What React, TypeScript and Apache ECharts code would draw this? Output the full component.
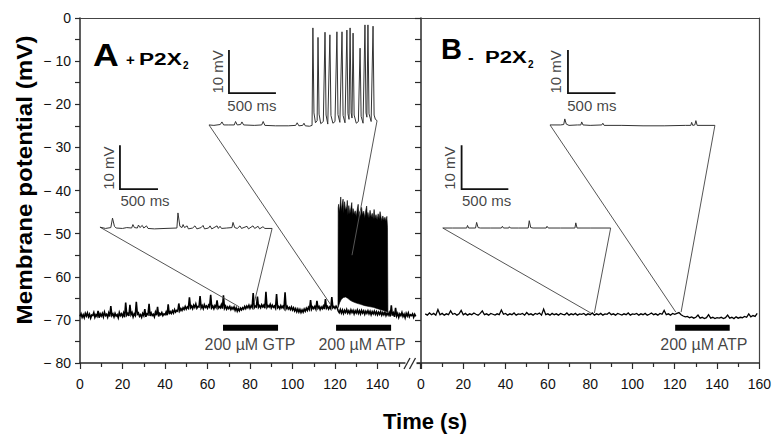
import React, { useEffect, useRef } from 'react';
import * as echarts from 'echarts';

const FONT = '"Liberation Sans", Arial, Helvetica, sans-serif';

// ---------- axes ----------
const timeMin = 0;
const timeMax = 160;
const timeInterval = 20;
const vMin = -80;
const vMax = 0;
const vInterval = 10;

// ---------- panel A main trace (0.5 s sampling from t = 0) ----------
const traceAStep = 0.5;
const traceA = [
  -69.2,-68.6,-69.4,-68.8,-69.5,-68.5,-69.1,-68.4,-69.3,-68.7,-69.6,-68.9,-69.0,-68.3,-69.4,-68.8,-69.2,-67.9,-69.5,-68.6,
  -69.1,-68.5,-69.3,-68.2,-69.0,-68.7,-69.4,-68.4,-69.2,-66.8,-69.0,-68.6,-69.3,-68.5,-69.1,-68.8,-69.5,-68.3,-69.0,-68.6,
  -69.2,-68.4,-69.4,-66.0,-68.9,-68.5,-69.1,-66.5,-68.8,-68.3,-69.3,-68.6,-69.0,-65.8,-68.7,-68.4,-69.2,-68.8,-69.4,-68.5,
  -69.0,-67.5,-69.3,-68.6,-68.8,-66.3,-69.1,-68.4,-69.0,-68.7,-69.3,-68.2,-68.9,-67.0,-69.2,-68.5,-68.8,-68.3,-69.0,-68.6,
  -68.8,-68.2,-68.9,-66.4,-68.7,-68.1,-68.5,-67.9,-68.4,-67.6,-68.2,-67.8,-68.0,-66.2,-67.9,-67.4,-67.8,-67.2,-67.6,-66.9,
  -67.5,-67.0,-67.3,-64.8,-67.2,-66.8,-67.4,-66.6,-67.1,-66.3,-67.3,-66.9,-67.0,-64.5,-67.2,-66.7,-67.4,-66.5,-67.1,-66.8,
  -67.3,-66.6,-67.0,-64.2,-67.2,-66.8,-67.4,-66.7,-67.1,-65.5,-67.3,-66.9,-67.2,-66.5,-67.4,-64.3,-67.3,-66.8,-67.5,-67.0,
  -67.4,-66.9,-67.6,-67.1,-67.5,-67.0,-67.8,-67.2,-68.0,-67.4,-67.9,-67.3,-67.7,-67.2,-67.5,-66.9,-67.4,-66.8,-67.2,-66.6,
  -67.3,-66.7,-67.1,-63.8,-67.2,-66.8,-67.0,-64.6,-67.1,-66.7,-67.2,-66.5,-67.0,-66.6,-67.3,-63.5,-67.1,-66.7,-67.0,-66.4,
  -67.2,-66.6,-67.1,-66.8,-67.3,-64.0,-67.2,-66.9,-67.4,-66.7,-67.2,-66.8,-67.3,-63.6,-67.4,-66.9,-67.5,-67.1,-67.6,-67.0,
  -67.7,-67.2,-67.9,-67.4,-68.1,-67.5,-68.2,-67.6,-68.3,-67.7,-68.2,-67.5,-68.0,-67.3,-67.8,-67.1,-67.6,-65.4,-67.5,-67.0,
  -67.4,-66.9,-67.5,-65.6,-67.3,-66.9,-67.6,-67.0,-67.4,-66.8,-67.5,-65.2,-67.3,-66.9,-67.5,-67.0,-67.4,-64.7,-67.2,-66.9,
  -67.3,-66.8,-67.2,-67.9,-68.3,-67.6,-68.4,-67.7,-68.5,-67.8,-68.3,-67.6,-68.4,-67.9,-68.5,-67.7,-68.3,-67.8,-68.6,-67.9,
  -68.4,-67.7,-68.5,-67.9,-68.6,-67.8,-68.4,-67.9,-68.7,-68.0,-68.5,-67.9,-68.6,-68.0,-68.8,-68.1,-68.6,-68.0,-68.7,-68.1,
  -68.8,-68.2,-68.7,-68.1,-68.9,-68.3,-68.8,-68.2,-69.0,-68.4,-68.9,-68.3,-69.2,-66.6,-69.0,-68.4,-69.3,-67.2,-69.1,-68.5,
  -69.4,-68.6,-69.0,-68.3,-69.2,-68.7,-69.5,-68.5,-69.1,-68.4,-69.3,-68.8,-69.0,-68.6,-69.4,-68.7,-69.2,
];

// ATP-evoked burst in panel A: upper and lower envelopes [t, mV]
const burstUpper = [
  [121.4,-67.2],[121.5,-44.0],[121.7,-43.2],[122.0,-45.0],[122.4,-43.6],[122.7,-41.5],[123.0,-44.8],[123.4,-43.2],
  [123.8,-42.0],[124.1,-45.3],[124.5,-42.6],[125.0,-44.6],[125.5,-43.8],[125.8,-42.3],[126.1,-45.6],[126.5,-43.5],
  [127.0,-45.4],[127.5,-44.0],[127.9,-42.8],[128.2,-45.8],[128.5,-44.2],[129.0,-45.5],[129.5,-44.7],[130.0,-46.0],
  [130.5,-44.3],[130.9,-43.2],[131.2,-45.8],[131.5,-44.9],[132.0,-46.1],[132.5,-43.9],[133.0,-45.7],[133.5,-44.8],
  [134.0,-46.3],[134.5,-44.5],[134.9,-43.6],[135.2,-46.0],[135.5,-45.1],[136.0,-46.4],[136.5,-44.6],[137.0,-46.2],
  [137.5,-45.3],[138.0,-46.6],[138.4,-44.4],[138.8,-46.5],[139.3,-45.6],[139.8,-46.8],[140.3,-45.4],[140.8,-46.6],
  [141.2,-44.9],[141.6,-46.0],[142.0,-47.0],[142.5,-45.9],[143.0,-46.9],[143.5,-46.2],[144.0,-47.1],[144.4,-46.0],
  [144.7,-48.5],[144.9,-67.8],
];
const burstLower = [
  [121.4,-67.2],[122.2,-66.0],[123.0,-65.2],[124.0,-64.8],[125.0,-64.7],[126.0,-65.0],[127.0,-65.4],[128.0,-65.7],
  [129.0,-65.9],[130.0,-66.1],[132.0,-66.4],[134.0,-66.7],[136.0,-66.9],[138.0,-67.1],[140.0,-67.4],[142.0,-67.7],
  [144.0,-68.0],[144.9,-68.2],
];

// ---------- panel B main trace (1 s sampling from t = 2) ----------
const traceBStart = 2;
const traceBStep = 1;
const traceB = [
  -68.6,-68.9,-68.4,-68.8,-68.5,-68.9,-67.6,-68.8,-68.5,-68.9,
  -68.6,-68.8,-67.9,-68.7,-68.5,-68.9,-68.6,-67.8,-68.8,-68.5,
  -68.9,-68.6,-68.8,-68.4,-68.7,-68.9,-68.5,-67.9,-68.8,-68.6,
  -68.9,-68.5,-68.7,-68.9,-68.6,-68.8,-67.7,-68.7,-68.5,-68.9,
  -68.6,-68.8,-68.4,-68.9,-68.6,-68.7,-68.5,-68.9,-68.3,-68.8,
  -68.6,-68.9,-68.5,-68.7,-68.4,-68.9,-67.5,-68.8,-68.6,-68.9,
  -68.5,-68.8,-68.6,-68.9,-68.5,-68.7,-68.8,-68.4,-68.9,-68.6,
  -68.8,-68.5,-68.9,-68.6,-68.7,-68.5,-68.9,-68.6,-68.8,-68.4,
  -68.9,-68.6,-68.8,-68.5,-68.9,-68.6,-68.7,-68.3,-68.8,-68.6,
  -68.9,-68.5,-68.7,-68.9,-68.6,-68.8,-68.4,-68.9,-68.6,-68.7,
  -68.5,-68.9,-68.6,-68.8,-68.5,-68.9,-68.7,-68.4,-68.8,-68.6,
  -68.9,-68.5,-68.7,-67.8,-68.8,-68.6,-68.9,-68.5,-68.7,-68.5,
  -68.3,-68.8,-69.1,-69.3,-69.2,-69.5,-69.3,-69.6,-69.4,-68.9,
  -69.6,-69.4,-69.7,-69.5,-68.8,-69.6,-69.4,-69.7,-69.5,-69.6,
  -69.4,-69.7,-69.5,-68.9,-69.6,-69.4,-69.7,-69.3,-69.6,-69.4,
  -69.5,-69.2,-69.4,-68.6,-69.3,-69.0,-69.2,-68.5,
];

// ---------- magnified insets [t, mV] drawn in the panel's coordinates ----------
const insetA1 = [
  [9.4,-48.5],[12,-48.8],[14.5,-48.6],[15.3,-46.4],[16.2,-48.3],[17,-48.7],[20,-48.8],[22,-48.6],[24.3,-48.7],
  [24.9,-47.9],[25.6,-48.6],[27,-48.7],[27.5,-48.0],[28.2,-48.6],[29.3,-48.1],[30,-48.7],[31.3,-48.2],[32,-48.8],
  [35,-48.9],[40,-48.8],[45.6,-48.7],[46.1,-45.2],[47,-48.3],[48,-48.6],[48.5,-47.9],[49.2,-48.6],[50.4,-48.2],
  [51,-48.9],[53,-48.7],[54.1,-48.2],[55,-48.9],[57,-48.6],[57.9,-48.1],[58.6,-48.9],[60.5,-48.7],[61.2,-48.2],
  [62,-48.9],[64.5,-48.2],[65.1,-48.8],[65.9,-48.3],[66.6,-48.8],[69,-48.7],[71.5,-48.6],[72,-47.4],[72.8,-48.6],
  [74,-48.8],[75.3,-48.2],[76,-48.8],[78.6,-48.3],[79.3,-48.9],[81.4,-48.2],[82.2,-48.8],[83.8,-48.3],[84.5,-48.9],
  [86.1,-48.4],[87,-48.8],[90.4,-48.8],
];
const insetA2 = [
  [60.7,-24.8],[63,-24.9],[66,-24.7],[66.8,-24.1],[67.6,-24.8],[70,-24.8],[72.6,-24.8],[73.2,-24.0],[74,-24.8],
  [75.6,-24.7],[76.2,-24.1],[77,-24.8],[82,-24.9],[85.5,-24.8],[86.2,-24.0],[87,-24.9],[92,-25.0],[98,-25.0],
  [101.5,-24.9],[102.2,-24.3],[103,-25.0],[104.8,-24.9],[105.4,-24.4],[106,-25.0],[108,-25.1],[109.2,-24.9],
  [109.6,-2.3],[110.1,-22.0],[110.8,-24.3],[111.6,-23.8],[112.0,-4.5],[112.5,-22.3],[113.3,-24.5],[114.5,-24.0],
  [115.3,-3.3],[115.8,-22.5],[116.6,-24.6],[117.6,-3.9],[118.1,-22.6],[119.0,-24.4],[120.0,-24.0],[120.9,-3.2],
  [121.4,-22.4],[122.3,-24.2],[123.3,-3.2],[123.8,-22.6],[124.7,-24.3],[125.6,-2.8],[126.1,-22.2],[126.6,-23.5],
  [127.1,-2.3],[127.6,-22.0],[128.0,-23.2],[128.5,-3.5],[129.0,-22.5],[130.0,-24.4],[131.0,-24.0],[131.8,-7.0],
  [132.3,-22.8],[133.2,-24.4],[134.1,-1.6],[134.6,-22.0],[135.0,-23.0],[135.5,-1.6],[136.0,-22.2],[137.0,-24.0],
  [137.9,-1.9],[138.4,-22.5],[139.0,-23.5],[139.8,-23.8],
];
const insetB1 = [
  [10.3,-48.7],[15,-48.7],[21.6,-48.7],[22,-48.1],[22.5,-48.7],[25.8,-48.7],[26.3,-47.4],[27,-48.6],[28,-48.7],
  [33,-48.7],[38,-48.7],[38.5,-48.3],[39,-48.7],[41.5,-48.7],[41.8,-48.4],[42.3,-48.7],[46,-48.7],[50.7,-48.7],
  [51.2,-47.0],[51.9,-48.6],[53,-48.7],[59.2,-48.7],[59.6,-48.3],[60.2,-48.7],[66,-48.7],[72.8,-48.7],[73.2,-47.5],
  [73.8,-48.7],[80,-48.7],[89.7,-48.7],
];
const insetB2 = [
  [61,-24.8],[66,-24.8],[67.5,-24.7],[68,-23.4],[68.7,-24.6],[70,-24.9],[74,-24.8],[75.6,-24.8],[76,-24.1],
  [76.6,-24.8],[80,-24.9],[85.5,-24.8],[86,-24.4],[86.6,-24.9],[95,-24.9],[105,-25.0],[115,-25.0],[125,-24.9],
  [127.6,-24.9],[128,-24.2],[128.5,-24.9],[129.5,-24.8],[130,-23.8],[130.6,-24.9],[139,-24.9],
];

// lines linking each inset to the stretch of trace it magnifies
const linksA = [
  [[9.4,-48.5],[75,-67.0]],
  [[90.4,-48.8],[82,-66.0]],
  [[60.7,-24.8],[118,-66.5]],
  [[139.8,-23.8],[128,-55]],
];
const linksB = [
  [[10.3,-48.7],[80.3,-68.4]],
  [[89.7,-48.7],[82,-68.4]],
  [[61,-24.8],[120.5,-68.2]],
  [[139,-24.9],[123,-68.2]],
];

// scale bars (10 mV / 500 ms) [t, mV]
const scaleBarsA = [
  [[18.8,-29.5],[18.8,-39.7],[36.7,-39.7]],
  [[70.1,-7.4],[70.1,-17.4],[92.2,-17.4]],
];
const scaleBarsB = [
  [[19.2,-29.5],[19.2,-39.7],[41.3,-39.7]],
  [[69.5,-7.4],[69.5,-17.4],[92.0,-17.4]],
];
const scaleTextsA = [
  { name: '10 mV', value: [13.2, -34.8], rotate: 90 },
  { name: '500 ms', value: [30.6, -42.4], rotate: 0 },
  { name: '10 mV', value: [64.5, -12.5], rotate: 90 },
  { name: '500 ms', value: [80.9, -20.2], rotate: 0 },
];
const scaleTextsB = [
  { name: '10 mV', value: [13.6, -34.8], rotate: 90 },
  { name: '500 ms', value: [31.0, -42.4], rotate: 0 },
  { name: '10 mV', value: [63.8, -12.5], rotate: 90 },
  { name: '500 ms', value: [80.8, -20.2], rotate: 0 },
];

// drug application bars
const drugLevel = -71.8;
const drugLabelLevel = -75.6;
const drugsA = [
  { label: '200 µM GTP', from: 67.3, to: 93.2, labelAt: 80.0 },
  { label: '200 µM ATP', from: 120.5, to: 146.4, labelAt: 132.7 },
];
const drugsB = [
  { label: '200 µM ATP', from: 120.2, to: 146.0, labelAt: 133.8 },
];

const AXIS_COLOR = '#2a2a2a';

function lineSeries(data: number[][], xi: number, color: string, width: number, extra: any = {}) {
  return {
    type: 'line', xAxisIndex: xi, yAxisIndex: xi, data, showSymbol: false, symbol: 'none',
    silent: true, lineStyle: { color, width, cap: 'butt', join: 'miter' }, ...extra,
  };
}

function textSeries(items: any[], xi: number, fontSize: number) {
  return {
    type: 'scatter', xAxisIndex: xi, yAxisIndex: xi, symbolSize: 1, silent: true,
    itemStyle: { color: 'rgba(0,0,0,0)' },
    data: items.map((it) => ({
      name: it.name, value: it.value,
      label: { show: true, position: 'inside', rotate: it.rotate || 0, formatter: '{b}',
        fontSize, fontFamily: FONT, color: '#111' },
    })),
  };
}

const bold = (text: string, fontSize: number) => ({
  text, fontSize, fontWeight: 'bold', fontFamily: FONT, fill: '#000', verticalAlign: 'middle',
});

export default function App() {
  const ref = useRef<HTMLDivElement>(null);
  useEffect(() => {
    if (!ref.current) return;
    const chart = echarts.init(ref.current, undefined, { renderer: 'svg' });
    const xCommon = (gridIndex: number, hideLast: boolean) => ({
      type: 'value', gridIndex, min: timeMin, max: timeMax, interval: timeInterval, position: 'bottom',
      axisLine: { show: true, onZero: false, lineStyle: { color: AXIS_COLOR, width: 1.5 } },
      axisTick: { show: true, length: 6, lineStyle: { color: AXIS_COLOR, width: 1.2 } },
      minorTick: { show: true, splitNumber: 2, length: 4, lineStyle: { color: AXIS_COLOR, width: 1.2 } },
      axisLabel: { fontSize: 14, fontFamily: FONT, color: '#111', margin: 14,
        formatter: (v: number) => (hideLast && v === timeMax ? '' : String(v)) },
      splitLine: { show: false }, minorSplitLine: { show: false },
    });
    const xTop = (gridIndex: number) => ({
      type: 'value', gridIndex, min: timeMin, max: timeMax, position: 'top',
      axisLine: { show: true, onZero: false, lineStyle: { color: '#444', width: 1.2 } },
      axisTick: { show: false }, axisLabel: { show: false }, splitLine: { show: false },
    });
    const option: any = {
      animation: false,
      backgroundColor: '#fff',
      grid: [
        { left: 80, top: 18, width: 340, height: 345 },
        { left: 421, top: 18, width: 341, height: 345 },
      ],
      xAxis: [xCommon(0, true), xCommon(1, false), xTop(0), xTop(1)],
      yAxis: [
        {
          type: 'value', gridIndex: 0, min: vMin, max: vMax, interval: vInterval,
          axisLine: { show: true, onZero: false, lineStyle: { color: AXIS_COLOR, width: 1.5 } },
          axisTick: { show: true, length: 5, lineStyle: { color: AXIS_COLOR, width: 1.2 } },
          minorTick: { show: true, splitNumber: 2, length: 5, lineStyle: { color: AXIS_COLOR, width: 1.2 } },
          axisLabel: { fontSize: 14, fontFamily: FONT, color: '#111', margin: 9,
            formatter: (v: number) => (v === 0 ? '0' : '\u2212 ' + Math.abs(v)) },
          splitLine: { show: false }, minorSplitLine: { show: false },
        },
        {
          type: 'value', gridIndex: 1, min: vMin, max: vMax, interval: vInterval / 2,
          axisLine: { show: true, onZero: false, lineStyle: { color: AXIS_COLOR, width: 1.5 } },
          axisTick: { show: true, length: 6, lineStyle: { color: AXIS_COLOR, width: 1.2 } },
          axisLabel: { show: false }, splitLine: { show: false },
        },
        {
          type: 'value', gridIndex: 1, min: vMin, max: vMax, position: 'right',
          axisLine: { show: true, onZero: false, lineStyle: { color: '#444', width: 1.2 } },
          axisTick: { show: false }, axisLabel: { show: false }, splitLine: { show: false },
        },
      ],
      series: [
        lineSeries(traceA.map((v, i) => [i * traceAStep, v]), 0, '#000', 1.6),
        lineSeries(traceB.map((v, i) => [traceBStart + i * traceBStep, v]), 1, '#000', 1.3),
        ...linksA.map((l) => lineSeries(l, 0, '#555', 1)),
        ...linksB.map((l) => lineSeries(l, 1, '#555', 1)),
        {
          type: 'custom', xAxisIndex: 0, yAxisIndex: 0, silent: true, data: [[133, -55]],
          renderItem: (_p: any, api: any) => {
            const pts = burstUpper.concat(burstLower.slice().reverse()).map((p) => api.coord(p));
            return { type: 'polygon', shape: { points: pts }, style: { fill: '#000', stroke: '#000', lineWidth: 0.6 } };
          },
        },
        lineSeries(insetA1, 0, '#333', 1),
        lineSeries(insetA2, 0, '#333', 1),
        lineSeries(insetB1, 1, '#333', 1),
        lineSeries(insetB2, 1, '#333', 1),
        ...scaleBarsA.map((s) => lineSeries(s, 0, '#111', 1.8)),
        ...scaleBarsB.map((s) => lineSeries(s, 1, '#111', 1.8)),
        ...drugsA.map((d) => lineSeries([[d.from, drugLevel], [d.to, drugLevel]], 0, '#000', 6)),
        ...drugsB.map((d) => lineSeries([[d.from, drugLevel], [d.to, drugLevel]], 1, '#000', 6)),
        textSeries(scaleTextsA, 0, 15),
        textSeries(scaleTextsB, 1, 15),
        textSeries(drugsA.map((d) => ({ name: d.label, value: [d.labelAt, drugLabelLevel] })), 0, 16),
        textSeries(drugsB.map((d) => ({ name: d.label, value: [d.labelAt, drugLabelLevel] })), 1, 16),
      ],
      graphic: [
        { type: 'text', x: 93, y: 55, z: 50, scaleX: 1.15, style: bold('A', 31) },
        { type: 'text', x: 126, y: 59, z: 50, style: bold('+', 15) },
        { type: 'text', x: 139, y: 59, z: 50, scaleX: 1.33, style: bold('P2X', 17) },
        { type: 'text', x: 183, y: 65, z: 50, style: bold('2', 10) },
        { type: 'text', x: 441, y: 49, z: 50, style: bold('B', 29) },
        { type: 'text', x: 468, y: 57, z: 50, style: bold('-', 17) },
        { type: 'text', x: 485, y: 57, z: 50, scaleX: 1.3, style: bold('P2X', 17) },
        { type: 'text', x: 528, y: 64, z: 50, style: bold('2', 10) },
        { type: 'text', x: 24, y: 180, rotation: Math.PI / 2, scaleX: 1.1, z: 50, style: { ...bold('Membrane potential (mV)', 22), align: 'center' } },
        { type: 'text', x: 425, y: 421, z: 50, style: { ...bold('Time (s)', 22), align: 'center' } },
        { type: 'rect', z: 100, shape: { x: 405.5, y: 358, width: 11, height: 10 }, style: { fill: '#fff' } },
        { type: 'line', z: 101, shape: { x1: 404, y1: 369, x2: 410, y2: 358 }, style: { stroke: AXIS_COLOR, lineWidth: 1.3 } },
        { type: 'line', z: 101, shape: { x1: 409.5, y1: 369, x2: 415.5, y2: 358 }, style: { stroke: AXIS_COLOR, lineWidth: 1.3 } },
      ],
    };
    chart.setOption(option);
    return () => chart.dispose();
  }, []);
  return <div ref={ref} style={{ position: 'fixed', left: 0, top: 0, width: 774, height: 434, background: '#fff' }} />;
}
